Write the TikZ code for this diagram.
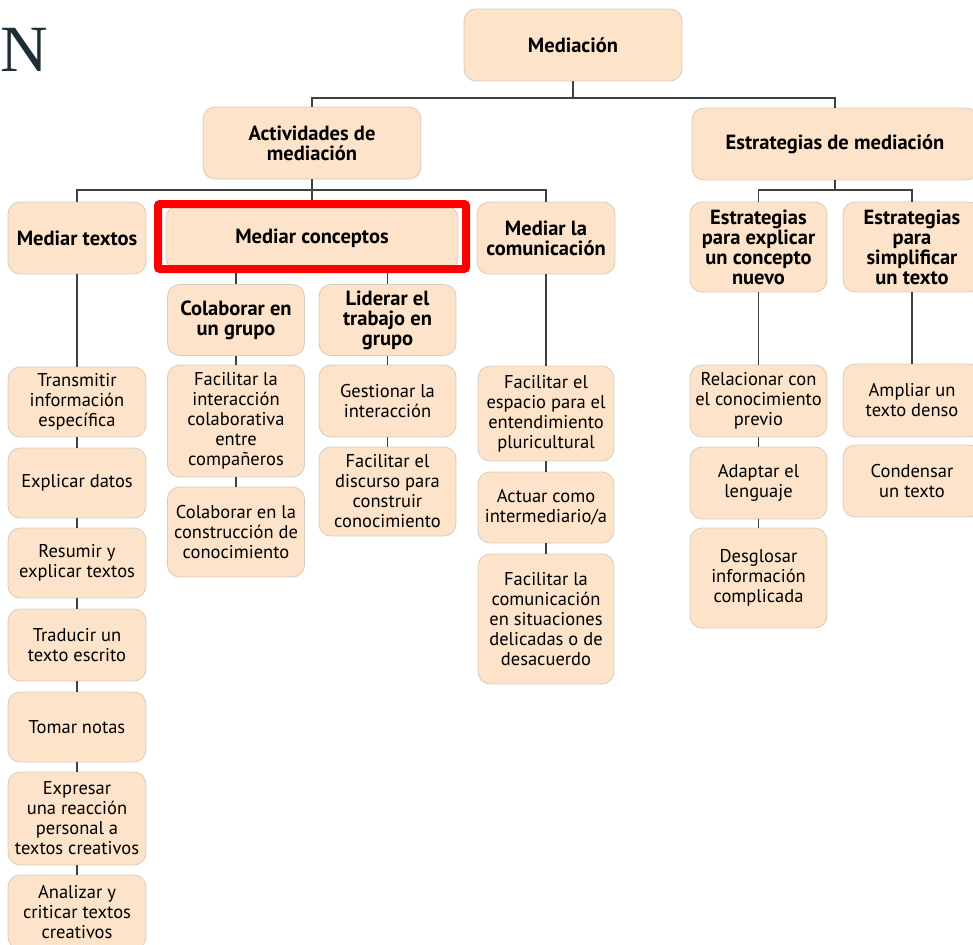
\documentclass[tikz,border=0pt]{standalone}
\usepackage{fontspec}
\setmainfont{PT Sans}
\newfontfamily\titlefont{Liberation Serif}
\definecolor{boxfill}{HTML}{FCE3C9}
\definecolor{boxline}{HTML}{D8CCC0}
\definecolor{connline}{HTML}{404040}
\definecolor{titleink}{HTML}{1E2D33}
\definecolor{markred}{HTML}{FF0000}
\tikzset{
  leaf/.style={draw=boxline, line width=0.8pt, fill=boxfill, rounded corners=12pt,
    align=center, inner sep=0pt, font=\fontsize{18.5}{20}\selectfont},
  head/.style={leaf, font=\fontsize{20.5}{20}\selectfont\bfseries},
  conn/.style={draw=connline, line width=1.4pt},
}

\begin{document}
\begin{tikzpicture}[x=1pt,y=-1pt]
  %defs
  \def\boxw{138}
  \useasboundingbox (0,0) rectangle (973,944);
  \clip (0,0) rectangle (973,944);
  \coordinate (topbus) at (573,98);
  \coordinate (actbus) at (312,190);
  \coordinate (estbus) at (835,190);
  %title
  \node[anchor=west, inner sep=0pt, text=titleink, font=\titlefont\fontsize{66}{66}\selectfont] (title) at (0,50) {N};
  %heads
  \node[head, minimum width=218, minimum height=72] (med) at (573,45) {Mediación};
  \node[head, minimum width=218, minimum height=72] (act) at (312,143) {Actividades de\\mediación};
  \node[head, minimum width=286, minimum height=72] (estr) at (835,144) {Estrategias de mediación};
  \node[head, minimum width=\boxw, minimum height=72] (textos) at (77,238) {Mediar textos};
  \node[head, minimum width=292, minimum height=64] (conceptos) at (312,238) {Mediar conceptos};
  \node[head, minimum width=\boxw, minimum height=72] (comun) at (546,238) {Mediar la\\comunicación};
  \node[head, minimum width=137, minimum height=90] (expl) at (758.5,247) {Estrategias\\para explicar\\un concepto\\nuevo};
  \node[head, minimum width=\boxw, minimum height=90] (simpl) at (912,247) {Estrategias\\para\\simplificar\\un texto};
  \node[head, minimum width=137, minimum height=71] (colab) at (236,320) {Colaborar en\\un grupo};
  \node[head, minimum width=137, minimum height=71] (lider) at (387.5,320) {Liderar el\\trabajo en\\grupo};
  %mediar textos
  \node[leaf, minimum width=\boxw, minimum height=70] (transm) at (77,402) {Transmitir\\información\\específica};
  \node[leaf, minimum width=\boxw, minimum height=70] (datos) at (77,483) {Explicar datos};
  \node[leaf, minimum width=\boxw, minimum height=70] (resum) at (77,563) {Resumir y\\explicar textos};
  \node[leaf, minimum width=\boxw, minimum height=72] (trad) at (77,645) {Traducir un\\texto escrito};
  \node[leaf, minimum width=\boxw, minimum height=70] (notas) at (77,727) {Tomar notas};
  \node[leaf, minimum width=\boxw, minimum height=93] (expres) at (77,818.5) {Expresar\\una reacción\\personal a\\textos creativos};
  \node[leaf, minimum width=\boxw, minimum height=74] (anal) at (77,912) {Analizar y\\criticar textos\\creativos};
  %mediar conceptos
  \node[leaf, minimum width=137, minimum height=112] (facint) at (236,421) {Facilitar la\\interacción\\colaborativa\\entre\\compañeros};
  \node[leaf, minimum width=137, minimum height=90] (colcons) at (236,532) {Colaborar en la\\construcción de\\conocimiento};
  \node[leaf, minimum width=137, minimum height=72] (gest) at (387.5,401) {Gestionar la\\interacción};
  \node[leaf, minimum width=137, minimum height=89] (facdisc) at (387.5,491.5) {Facilitar el\\discurso para\\construir\\conocimiento};
  %mediar la comunicacion
  \node[leaf, minimum width=136, minimum height=95] (espacio) at (546,413.5) {Facilitar el\\espacio para el\\entendimiento\\pluricultural};
  \node[leaf, minimum width=136, minimum height=71] (actuar) at (546,507.5) {Actuar como\\intermediario/a};
  \node[leaf, minimum width=136, minimum height=130] (delic) at (546,619) {Facilitar la\\comunicación\\en situaciones\\delicadas o de\\desacuerdo};
  %estrategias
  \node[leaf, minimum width=137, minimum height=72] (relac) at (758.5,401) {Relacionar con\\el conocimiento\\previo};
  \node[leaf, minimum width=137, minimum height=72] (adapt) at (758.5,483) {Adaptar el\\lenguaje};
  \node[leaf, minimum width=137, minimum height=100] (desgl) at (758.5,578) {Desglosar\\información\\complicada};
  \node[leaf, minimum width=\boxw, minimum height=73] (ampl) at (912,400.5) {Ampliar un\\texto denso};
  \node[leaf, minimum width=\boxw, minimum height=72] (conden) at (912,481) {Condensar\\un texto};
  %lines
  \draw[conn] (med.south) -- (topbus);
  \draw[conn] (act.north) -- (act.north |- topbus) -- (estr.north |- topbus) -- (estr.north);
  \draw[conn] (act.south) -- (conceptos.north);
  \draw[conn] (textos.north) -- (textos.north |- actbus) -- (comun.north |- actbus) -- (comun.north);
  \draw[conn] (estr.south) -- (estbus);
  \draw[conn] (expl.north) -- (expl.north |- estbus) -- (simpl.north |- estbus) -- (simpl.north);
  \draw[conn] (colab.north) -- (colab.north |- conceptos.south);
  \draw[conn] (lider.north) -- (lider.north |- conceptos.south);
  \draw[conn] (textos) -- (transm);
  \draw[conn] (transm) -- (datos);
  \draw[conn] (datos) -- (resum);
  \draw[conn] (resum) -- (trad);
  \draw[conn] (trad) -- (notas);
  \draw[conn] (notas) -- (expres);
  \draw[conn] (expres) -- (anal);
  \draw[conn] (colab) -- (facint);
  \draw[conn] (facint) -- (colcons);
  \draw[conn] (lider) -- (gest);
  \draw[conn] (gest) -- (facdisc);
  \draw[conn] (comun) -- (espacio);
  \draw[conn] (espacio) -- (actuar);
  \draw[conn] (actuar) -- (delic);
  \draw[conn] (expl) -- (relac);
  \draw[conn] (relac) -- (adapt);
  \draw[conn] (adapt) -- (desgl);
  \draw[conn] (simpl) -- (ampl);
  %highlight
  \draw[markred, line width=8pt, rounded corners=2pt] (158,204) rectangle (466,269);
\end{tikzpicture}
\end{document}
